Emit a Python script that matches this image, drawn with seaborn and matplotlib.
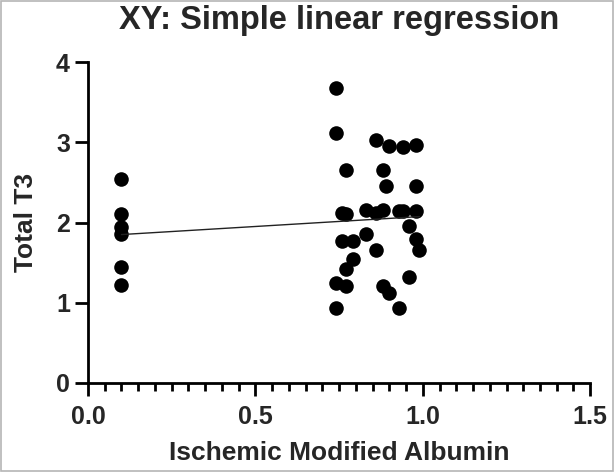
import matplotlib
matplotlib.use("Agg")
from matplotlib import pyplot as plt
from matplotlib.ticker import MultipleLocator, FormatStrFormatter
from matplotlib.patches import Rectangle
import pandas as pd
import seaborn as sns

# values
ima = [0.10, 0.10, 0.10, 0.10, 0.10, 0.10,
       0.74, 0.74, 0.86, 0.90, 0.94, 0.98, 0.77, 0.88, 0.89, 0.98,
       0.76, 0.77, 0.83, 0.86, 0.88, 0.93, 0.94, 0.98, 0.96, 0.83,
       0.76, 0.79, 0.98, 0.99, 0.86, 0.79, 0.77, 0.74, 0.77, 0.88,
       0.90, 0.96, 0.74, 0.93]
t3 = [2.54, 2.11, 1.95, 1.86, 1.44, 1.22,
      3.68, 3.11, 3.03, 2.95, 2.94, 2.96, 2.65, 2.66, 2.45, 2.45,
      2.12, 2.11, 2.16, 2.12, 2.15, 2.14, 2.14, 2.14, 1.96, 1.86,
      1.77, 1.77, 1.79, 1.66, 1.66, 1.55, 1.42, 1.25, 1.21, 1.21,
      1.12, 1.32, 0.93, 0.94]

df = pd.DataFrame({"Ischemic Modified Albumin": ima, "Total T3": t3})

sns.set_style("ticks")
plt.rcParams['font.family'] = ['Liberation Sans', 'DejaVu Sans']

fig = plt.figure(figsize=(6.14, 4.72), dpi=100)
ax = fig.add_axes([0.1433, 0.1886, 0.818, 0.680])

sns.regplot(data=df, x="Ischemic Modified Albumin", y="Total T3", ax=ax,
            ci=None, truncate=True,
            scatter_kws={"s": 110, "color": "black", "alpha": 1, "linewidths": 0},
            line_kws={"color": "#222222", "linewidth": 1.0})

ax.set_xlim(0, 1.5)
ax.set_ylim(0, 4)
ax.xaxis.set_major_locator(MultipleLocator(0.5))
ax.xaxis.set_minor_locator(MultipleLocator(0.05))
ax.yaxis.set_major_locator(MultipleLocator(1))
ax.xaxis.set_major_formatter(FormatStrFormatter('%.1f'))

sns.despine(ax=ax)
for s in ["left", "bottom"]:
    ax.spines[s].set_linewidth(2.0)
    ax.spines[s].set_color("black")
ax.tick_params(which="major", length=9.5, width=2, color="black")
ax.tick_params(which="minor", length=5.8, width=2, color="black")
ax.tick_params(axis="both", labelsize=18)
ax.tick_params(axis="x", pad=6)
ax.tick_params(axis="y", pad=3.5)
for lab in ax.get_xticklabels() + ax.get_yticklabels():
    lab.set_fontweight("bold")

ax.set_xlabel("Ischemic Modified Albumin", fontsize=19, fontweight="bold")
ax.set_ylabel("Total T3", fontsize=19, fontweight="bold")
ax.xaxis.set_label_coords(0.5, -0.24)
ax.xaxis.label.set_va("baseline")
ax.yaxis.set_label_coords(-0.1235, 0.5)
ax.yaxis.label.set_va("center")

ax.set_title("XY: Simple linear regression", fontsize=23.5, fontweight="bold",
             va="baseline", y=1.0 + (62 - 37) / 321)

# light frame round the whole picture
fig.patches.append(Rectangle((0.002, 0.002), 0.996, 0.996, transform=fig.transFigure,
                             fill=False, edgecolor="#b5b5b5", linewidth=1.2))

fig.savefig("out.png", dpi=100)
